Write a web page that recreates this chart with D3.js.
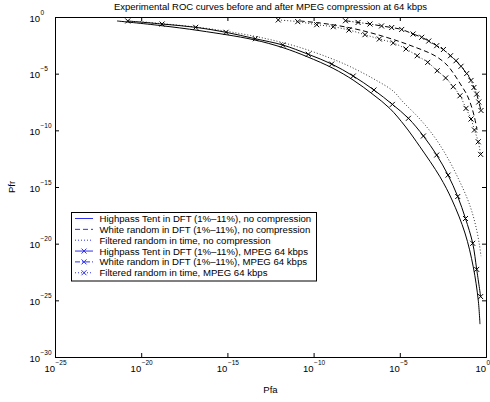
<!DOCTYPE html>
<html>
<head>
<meta charset="utf-8">
<script src="https://cdn.jsdelivr.net/npm/d3@7"></script>
<style>
body { margin: 0; background: #fff; }
text { font-family: "Liberation Sans", Arial, Helvetica, sans-serif; }
</style>
</head>
<body>
<script>
// values are log10 exponents
var pfaTicks = [-25, -20, -15, -10, -5, 0];
var pfrTicks = [-30, -25, -20, -15, -10, -5, 0];

var hpPlainPfa = [-21.40,-18.91,-16.59,-13.52,-11.77,-10.38,-8.87,-7.71,-6.55,-5.57,-4.70,-3.83,-2.67,-1.97,-1.22,-0.74,-0.45,-0.35];
var hpPlainPfr = [-0.35,-0.75,-1.21,-1.99,-2.71,-3.50,-4.53,-5.56,-6.84,-8.08,-9.62,-11.45,-14.10,-16.15,-19.06,-22.04,-24.98,-27.10];

var whitePlainPfa = [-10.79,-9.63,-8.47,-7.31,-5.74,-4.35,-2.96,-2.26,-1.86,-1.45,-1.10,-0.87,-0.67,-0.52];
var whitePlainPfr = [-0.35,-0.53,-0.79,-1.15,-1.81,-2.53,-3.42,-4.24,-5.03,-6.00,-6.88,-7.77,-8.83,-9.97];

var filtPlainPfa = [-20.07,-16.59,-14.27,-12.53,-10.79,-9.05,-7.89,-6.55,-5.39,-4.81,-3.94,-3.25,-2.67,-2.09,-1.62,-1.12,-0.81,-0.54,-0.38,-0.29];
var filtPlainPfr = [-0.41,-0.93,-1.46,-1.99,-2.69,-3.62,-4.37,-5.43,-6.53,-7.50,-8.83,-10.06,-11.30,-12.80,-14.21,-15.89,-17.21,-18.80,-20.12,-21.10];

var hpMpegPfa = [-20.78,-18.79,-16.84,-15.08,-13.38,-11.79,-10.31,-8.95,-7.70,-6.50,-5.43,-4.50,-3.63,-2.86,-2.20,-1.64,-1.19,-0.77,-0.54,-0.31];
var hpMpegPfr = [-0.35,-0.62,-0.91,-1.35,-1.92,-2.47,-3.29,-4.15,-5.21,-6.44,-7.71,-8.94,-10.50,-12.18,-13.95,-15.84,-17.78,-19.97,-22.27,-24.67];

var whiteMpegPfa = [-8.15,-7.42,-6.73,-6.06,-5.47,-4.89,-4.23,-3.73,-3.32,-2.86,-2.47,-2.06,-1.74,-1.45,-1.12,-0.87,-0.70,-0.54,-0.42,-0.29];
var whiteMpegPfr = [-0.33,-0.48,-0.62,-0.79,-0.93,-1.10,-1.50,-1.79,-2.12,-2.53,-2.87,-3.42,-3.86,-4.35,-4.99,-5.60,-6.22,-6.80,-7.50,-8.25];

var filtMpegPfa = [-12.05,-10.92,-9.82,-8.86,-7.95,-7.02,-6.19,-5.38,-4.64,-3.99,-3.38,-2.83,-2.34,-1.90,-1.51,-1.16,-0.87,-0.67,-0.45,-0.31];
var filtMpegPfr = [-0.26,-0.41,-0.68,-0.86,-1.15,-1.56,-1.94,-2.29,-2.82,-3.42,-4.00,-4.74,-5.38,-6.15,-6.95,-8.06,-9.00,-9.97,-11.01,-12.12];

var labels = [
  "Highpass Tent in DFT (1%\u201311%), no compression",
  "White random in DFT (1%\u201311%), no compression",
  "Filtered random in time, no compression",
  "Highpass Tent in DFT (1%\u201311%), MPEG 64 kbps",
  "White random in DFT (1%\u201311%), MPEG 64 kbps",
  "Filtered random in time, MPEG 64 kbps"
];

var width = 490, height = 402;
var plotL = 55, plotR = 486, plotT = 17, plotB = 357;

var svg = d3.select("body").append("svg")
  .attr("width", width)
  .attr("height", height);

svg.append("rect").attr("width", width).attr("height", height).attr("fill", "#fff");

var x = d3.scaleLog().domain([1e-25, 1]).range([plotL, plotR]);
var y = d3.scaleLog().domain([1e-30, 1]).range([plotB, plotT]);

var series = [
  { pfa: hpPlainPfa, pfr: hpPlainPfr, dash: null, marker: false },
  { pfa: whitePlainPfa, pfr: whitePlainPfr, dash: "5,3", marker: false },
  { pfa: filtPlainPfa, pfr: filtPlainPfr, dash: "1,2", marker: false },
  { pfa: hpMpegPfa, pfr: hpMpegPfr, dash: null, marker: true },
  { pfa: whiteMpegPfa, pfr: whiteMpegPfr, dash: "5,2,1,2", marker: true },
  { pfa: filtMpegPfa, pfr: filtMpegPfr, dash: "1,2", marker: true }
];

var line = d3.line()
  .x(function(d) { return x(Math.pow(10, d[0])); })
  .y(function(d) { return y(Math.pow(10, d[1])); })
  .curve(d3.curveCatmullRom);

var cross = "M-2.5,-2.5L2.5,2.5M-2.5,2.5L2.5,-2.5";

var plot = svg.append("g");
series.forEach(function(s) {
  var pts = d3.zip(s.pfa, s.pfr);
  plot.append("path")
    .attr("d", line(pts))
    .attr("fill", "none")
    .attr("stroke", "#000")
    .attr("stroke-width", s.dash == "1,2" ? 0.8 : 1)
    .attr("stroke-dasharray", s.dash);
  if (s.marker) {
    plot.selectAll(null)
      .data(pts)
      .enter()
      .append("path")
      .attr("transform", function(d) { return "translate(" + x(Math.pow(10, d[0])) + "," + y(Math.pow(10, d[1])) + ")"; })
      .attr("d", cross)
      .attr("stroke", "#000")
      .attr("stroke-width", 1)
      .attr("fill", "none");
  }
});

// axes box with inward ticks on all four sides
var tv = pfaTicks.map(function(e) { return Math.pow(10, e); });
var tvy = pfrTicks.map(function(e) { return Math.pow(10, e); });
svg.append("g").attr("transform", "translate(0," + plotB + ")")
  .call(d3.axisBottom(x).tickValues(tv).tickSize(-4).tickFormat(""));
svg.append("g").attr("transform", "translate(0," + plotT + ")")
  .call(d3.axisTop(x).tickValues(tv).tickSize(-4).tickFormat(""));
svg.append("g").attr("transform", "translate(" + plotL + ",0)")
  .call(d3.axisLeft(y).tickValues(tvy).tickSize(-4).tickFormat(""));
svg.append("g").attr("transform", "translate(" + plotR + ",0)")
  .call(d3.axisRight(y).tickValues(tvy).tickSize(-4).tickFormat(""));
svg.selectAll(".domain").attr("stroke", "#000").attr("stroke-width", 1);
svg.selectAll(".tick line").attr("stroke", "#000");

// tick labels: "10" plus a raised exponent
pfaTicks.forEach(function(e) {
  var px = x(Math.pow(10, e));
  svg.append("text").attr("x", px).attr("y", 371.5)
    .attr("text-anchor", "end").attr("font-size", 9.5).text("10");
  svg.append("text").attr("x", px + 0.5).attr("y", 364.5)
    .attr("font-size", 6.5).text(e == 0 ? "0" : "\u2212" + (-e));
});
pfrTicks.forEach(function(e) {
  var py = y(Math.pow(10, e));
  svg.append("text").attr("x", 40).attr("y", py + 4.5)
    .attr("text-anchor", "end").attr("font-size", 9.5).text("10");
  svg.append("text").attr("x", 40.5).attr("y", py - 2.5)
    .attr("font-size", 6.5).text(e == 0 ? "0" : "\u2212" + (-e));
});

svg.append("text")
  .attr("x", (plotL + plotR) / 2).attr("y", 10)
  .attr("text-anchor", "middle").attr("font-size", 9.5)
  .text("Experimental ROC curves before and after MPEG compression at 64 kbps");

svg.append("text")
  .attr("x", (plotL + plotR) / 2).attr("y", 393)
  .attr("text-anchor", "middle").attr("font-size", 9.5)
  .text("Pfa");

svg.append("text")
  .attr("transform", "translate(15," + ((plotT + plotB) / 2) + ") rotate(-90)")
  .attr("text-anchor", "middle").attr("font-size", 9.5)
  .text("Pfr");

// legend
var lg = svg.append("g");
lg.append("rect")
  .attr("x", 71.5).attr("y", 212.5).attr("width", 245).attr("height", 68.5)
  .attr("fill", "#fff").attr("stroke", "#000").attr("stroke-width", 1);

var legendBlue = "#3030f0";
series.forEach(function(s, i) {
  var ry = 218.5 + i * 10.85;
  lg.append("line")
    .attr("x1", 75).attr("x2", 93).attr("y1", ry).attr("y2", ry)
    .attr("stroke", legendBlue).attr("stroke-width", 1)
    .attr("stroke-dasharray", s.dash);
  if (s.marker) {
    lg.append("path").attr("transform", "translate(84," + ry + ")")
      .attr("d", cross).attr("stroke", legendBlue).attr("fill", "none");
  }
  lg.append("text").attr("x", 99.5).attr("y", ry + 3.5)
    .attr("font-size", 9.6).text(labels[i]);
});
</script>
</body>
</html>
